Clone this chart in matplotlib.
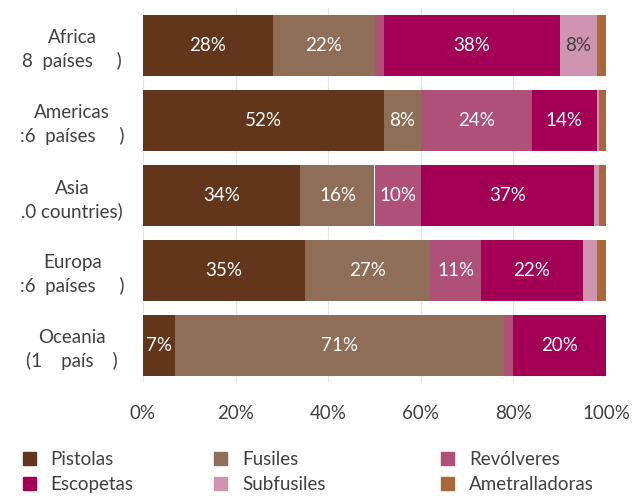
import numpy as np
import matplotlib.pyplot as plt
from matplotlib.patches import Patch

plt.rcParams['font.family'] = ['Lato', 'DejaVu Sans']

regions = ['Africa\n8  países     )', 'Americas\n:6  países     )', 'Asia\n.0 countries)',
           'Europa\n:6  países     )', 'Oceania\n(1    país    )']
types = ['Pistolas', 'Fusiles', 'Revólveres', 'Escopetas', 'Subfusiles', 'Ametralladoras']
colors = ['#62361B', '#8E6E57', '#AE5078', '#A30055', '#CF94B0', '#A8683A']

pistolas = [28, 52, 34, 35, 7]
fusiles = [22, 8, 16, 27, 71]
revolveres = [2, 24, 10, 11, 2]
escopetas = [38, 14, 37.5, 22, 20]
subfusiles = [8, 0.5, 1, 3, 0]
ametralladoras = [2, 1.5, 1.5, 2, 0]
labels = [['28%', '52%', '34%', '35%', '7%'],
          ['22%', '8%', '16%', '27%', '71%'],
          ['', '24%', '10%', '11%', ''],
          ['38%', '14%', '37%', '22%', '20%'],
          ['8%', '', '', '', ''],
          ['', '', '', '', '']]

series = [pistolas, fusiles, revolveres, escopetas, subfusiles, ametralladoras]

fig = plt.figure(figsize=(6.34, 4.96), dpi=100)
ax = fig.add_axes([143/634, 1 - 383/496, 463/634, 375/496])

y = np.arange(len(regions))
left = np.zeros(len(regions))
for i, vals in enumerate(series):
    vals = np.array(vals, dtype=float)
    ax.barh(y, vals, left=left, height=0.81, color=colors[i], linewidth=0)
    for j in range(len(regions)):
        if labels[i][j]:
            tc = '#404040' if i == 4 else 'white'
            ax.text(left[j] + vals[j] / 2, y[j], labels[i][j], ha='center', va='center',
                    color=tc, fontsize=13.5)
    left += vals

ax.set_xlim(0, 100)
ax.set_ylim(4.5, -0.5)
ax.set_xticks([0, 20, 40, 60, 80, 100])
ax.set_xticklabels(['0%', '20%', '40%', '60%', '80%', '100%'], fontsize=13.5, color='#404040')
ax.set_yticks(y)
ax.set_yticklabels(regions, fontsize=13.5, color='#404040', ha='center', linespacing=1.35)
ax.tick_params(axis='y', length=0, pad=51)
ax.tick_params(axis='x', length=0, pad=16)
ax.grid(axis='x', color='#e6e6e6', linewidth=0.8)
ax.set_axisbelow(True)
for s in ax.spines.values():
    s.set_visible(False)

# three legend columns placed by hand
cols = [[0, 3], [1, 4], [2, 5]]
xs = [0.012, 0.314, 0.672]
for c, x0 in zip(cols, xs):
    handles = [Patch(color=colors[k], label=types[k]) for k in c]
    fig.legend(handles=handles, loc='upper left', bbox_to_anchor=(x0, 0.121),
               frameon=False, fontsize=13.5, handlelength=0.7, handleheight=0.7,
               labelspacing=0.45, handletextpad=0.8, labelcolor='#404040',
               borderpad=0.3)

fig.savefig('out.png', dpi=100)
